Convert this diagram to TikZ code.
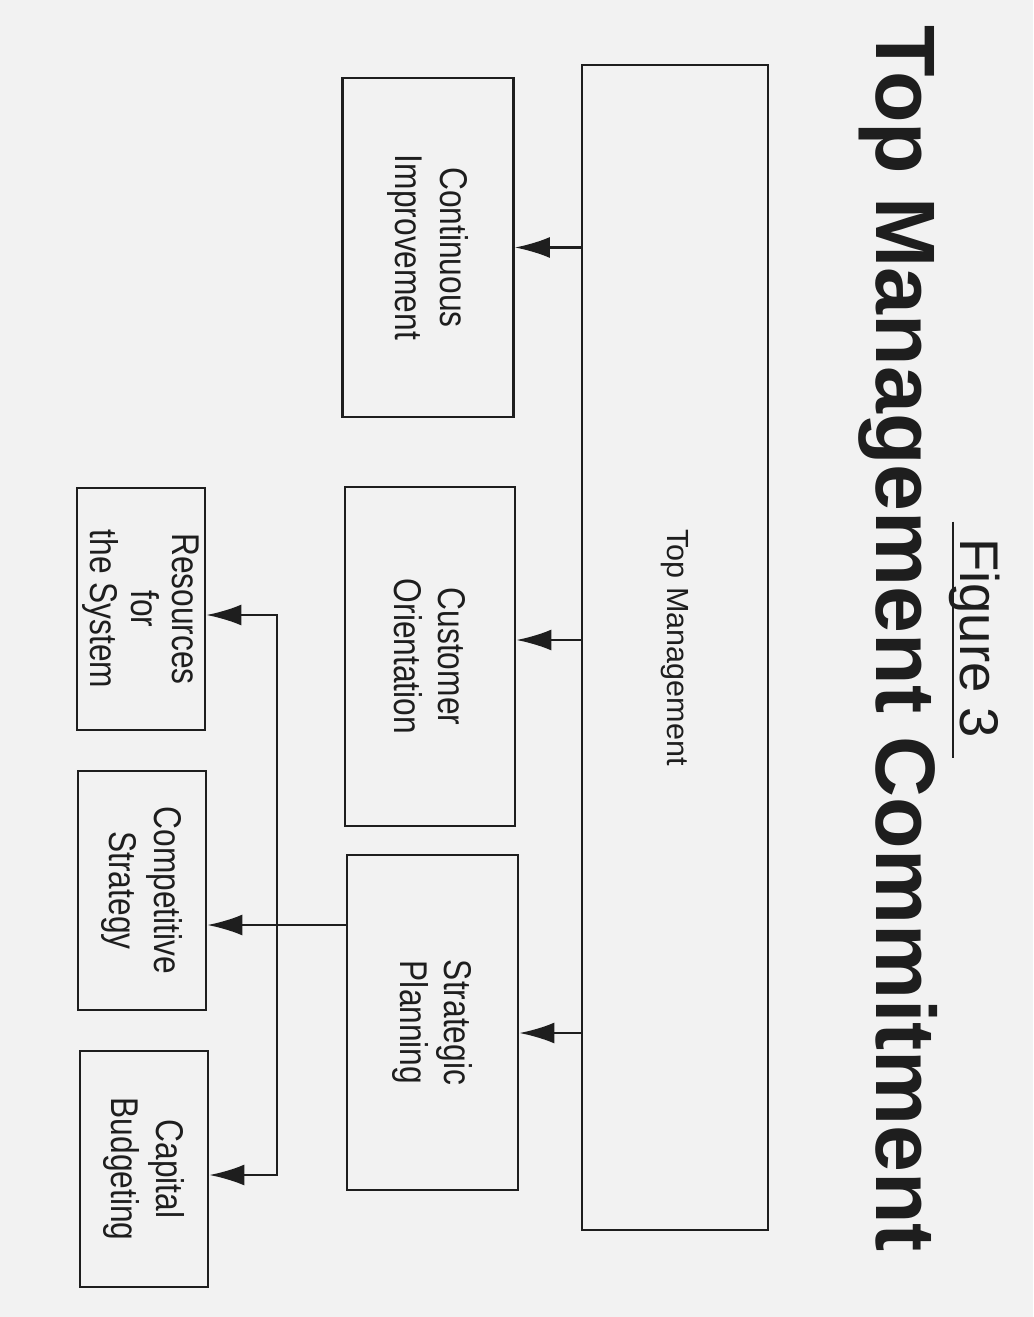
\documentclass[tikz,border=0pt]{standalone}
\usepackage{fontspec}
\setmainfont{Liberation Sans}
\newfontfamily\narrowfont[FakeStretch=0.82]{Liberation Sans}
\usetikzlibrary{arrows.meta}
\definecolor{paper}{RGB}{242, 242, 242}
\definecolor{ink}{RGB}{30, 30, 30}

\begin{document}
\begin{tikzpicture}[
    >={Latex[length=3.5mm, width=2.1mm]},
    box/.style={draw=ink, line width=0.8pt, rotate=-90, align=center, inner sep=1pt,
        text=ink, font=\narrowfont\fontsize{11}{12.6}\selectfont},
    arrow/.style={->, line width=0.7pt, draw=ink}
]

% === Page ===
\fill[paper] (0, 0) rectangle (10.33, -13.17);
\useasboundingbox (0, 0) rectangle (10.33, -13.17);

% === Titles ===
\node[rotate=-90, anchor=base, text=ink, font=\bfseries\fontsize{24}{28}\selectfont]
    (title) at (8.76, -6.39) {Top Management Commitment};
\node[rotate=-90, anchor=base, text=ink, font=\fontsize{15.5}{18}\selectfont]
    (fig) at (9.60, -6.38) {Figure 3};
\draw[ink, line width=0.8pt] ([xshift=-0.07cm, yshift=0.04cm]fig.base west)
    -- ([xshift=-0.07cm, yshift=-0.08cm]fig.base east);

% === Top management ===
\node[box, minimum width=11.65cm, minimum height=1.86cm,
    font=\fontsize{8.7}{10}\selectfont] (tm) at (6.75, -6.475) {Top Management};

% === First level ===
\node[box, minimum width=3.39cm, minimum height=1.71cm] (ci) at (4.28, -2.475)
    {Continuous\\Improvement};
\node[box, minimum width=3.39cm, minimum height=1.70cm] (co) at (4.30, -6.565)
    {Customer\\Orientation};
\node[box, minimum width=3.35cm, minimum height=1.71cm] (sp) at (4.325, -10.225)
    {Strategic\\Planning};

% === Second level ===
\node[box, minimum width=2.42cm, minimum height=1.28cm,
    font=\narrowfont\fontsize{11}{11.6}\selectfont] (rs) at (1.41, -6.09)
    {Resources\\for\\the System};
\node[box, minimum width=2.39cm, minimum height=1.28cm] (cs) at (1.42, -8.905)
    {Competitive\\Strategy};
\node[box, minimum width=2.36cm, minimum height=1.28cm] (cb) at (1.44, -11.69)
    {Capital\\Budgeting};

% Entry points
\coordinate (coin) at ([yshift=1.65mm]co.north);
\coordinate (spin) at ([yshift=-1.05mm]sp.north);
\coordinate (rsin) at ([yshift=-0.6mm]rs.north);
\coordinate (cbin) at ([yshift=-0.6mm]cb.north);
\coordinate (bus) at (2.77, -9.25);

% Arrows from top management
\draw[arrow] (tm.south |- ci) -- (ci.north);
\draw[arrow] (tm.south |- coin) -- (coin);
\draw[arrow] (tm.south |- spin) -- (spin);

% Arrows from strategic planning
\draw[arrow] (sp.south |- bus) -- (bus -| cs.north);
\draw[arrow] (bus) |- (rsin);
\draw[arrow] (bus) |- (cbin);

\end{tikzpicture}
\end{document}
